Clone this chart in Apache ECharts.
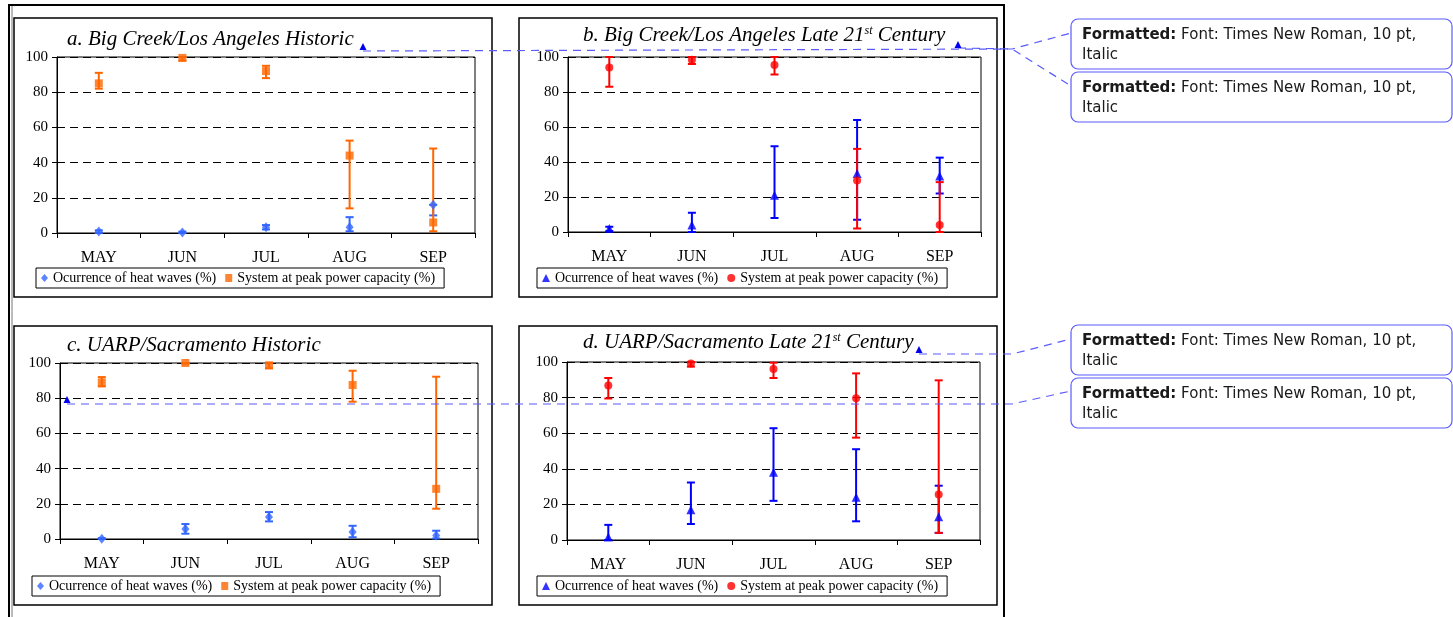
<!DOCTYPE html>
<html><head><meta charset="utf-8">
<script src="https://cdn.jsdelivr.net/npm/echarts@6/dist/echarts.min.js"></script>
<style>html,body{margin:0;padding:0;background:#fff;}#c{width:1453px;height:617px;}</style>
</head><body><div id="c"></div>
<script>
// ---- data ----
var categories = ['MAY','JUN','JUL','AUG','SEP'];
var yTicks = [0,20,40,60,80,100];
var heatName = 'Ocurrence of heat waves (%)';
var peakName = 'System at peak power capacity (%)';

// a. Big Creek/Los Angeles Historic
var aHeatVal  = [0.8, 0.3, 3.2, 3.2, 16];
var aHeatLow  = [0, 0, 2, 1, 10];
var aHeatHigh = [1.5, 0.8, 4.5, 9, 16];
var aPeakVal  = [85, 99.5, 92, 44, 6];
var aPeakLow  = [82, 98, 88, 14, 1];
var aPeakHigh = [91, 100, 95, 52.5, 48];

// b. Big Creek/Los Angeles Late 21st Century
var bHeatVal  = [2, 4, 21, 33.5, 32];
var bHeatLow  = [0.5, 0, 8, 7, 22];
var bHeatHigh = [3, 11, 49, 64, 42.5];
var bPeakVal  = [94, 98.5, 95.5, 29.5, 4];
var bPeakLow  = [83, 96, 90, 2, 0];
var bPeakHigh = [100, 100, 100, 47.5, 28.5];

// c. UARP/Sacramento Historic
var cHeatVal  = [0.2, 5.7, 12.5, 4, 2];
var cHeatLow  = [0, 3, 10, 1, 0.3];
var cHeatHigh = [0.5, 8.5, 15.3, 7.5, 4.7];
var cPeakVal  = [89, 100, 98.7, 87.5, 28.5];
var cPeakLow  = [86.7, 99.6, 97, 78, 17.2];
var cPeakHigh = [92, 100, 100, 95.6, 92.2];

// d. UARP/Sacramento Late 21st Century
var dHeatVal  = [1.7, 17, 38, 24, 13];
var dHeatLow  = [0, 9, 22, 10.5, 4];
var dHeatHigh = [8.5, 32.3, 62.8, 51, 30.5];
var dPeakVal  = [86.8, 99.2, 96, 79.7, 25.5];
var dPeakLow  = [79.5, 97.4, 91, 57.5, 4];
var dPeakHigh = [91, 100, 99.6, 93.6, 89.7];

// ---- styling / layout ----
var SERIF = 'Liberation Serif, Times New Roman, serif';
var panels = [
  {key:'a', grid:{left:57, top:57, width:418, height:176}, legend:{left:36, top:268},
   heat:[aHeatVal,aHeatLow,aHeatHigh], peak:[aPeakVal,aPeakLow,aPeakHigh],
   heatColor:'#3366ff', peakColor:'#ff6600', heatSym:'diamond', peakSym:'rect', heatSize:[8,10], peakSize:8},
  {key:'b', grid:{left:568, top:57, width:413, height:175}, legend:{left:537, top:268},
   heat:[bHeatVal,bHeatLow,bHeatHigh], peak:[bPeakVal,bPeakLow,bPeakHigh],
   heatColor:'#0000ff', peakColor:'#ff0000', heatSym:'triangle', peakSym:'circle', heatSize:9, peakSize:8},
  {key:'c', grid:{left:60, top:363, width:418, height:176}, legend:{left:32, top:576},
   heat:[cHeatVal,cHeatLow,cHeatHigh], peak:[cPeakVal,cPeakLow,cPeakHigh],
   heatColor:'#3366ff', peakColor:'#ff6600', heatSym:'diamond', peakSym:'rect', heatSize:[8,10], peakSize:8},
  {key:'d', grid:{left:567, top:362, width:413, height:178}, legend:{left:537, top:576},
   heat:[dHeatVal,dHeatLow,dHeatHigh], peak:[dPeakVal,dPeakLow,dPeakHigh],
   heatColor:'#0000ff', peakColor:'#ff0000', heatSym:'triangle', peakSym:'circle', heatSize:9, peakSize:8}
];

function errBar(color){
  return function(params, api){
    var i = api.value(0);
    var lo = api.coord([i, api.value(1)]);
    var hi = api.coord([i, api.value(2)]);
    var w = 4;
    var st = {stroke:color, lineWidth:2};
    return {type:'group', children:[
      {type:'line', shape:{x1:lo[0], y1:lo[1], x2:hi[0], y2:hi[1]}, style:st},
      {type:'line', shape:{x1:lo[0]-w, y1:lo[1], x2:lo[0]+w, y2:lo[1]}, style:st},
      {type:'line', shape:{x1:hi[0]-w, y1:hi[1], x2:hi[0]+w, y2:hi[1]}, style:st}
    ]};
  };
}
function rangeData(lo, hi){ return lo.map(function(v,i){ return [i, v, hi[i]]; }); }

var grids=[], xAxes=[], yAxes=[], series=[], legends=[];
panels.forEach(function(p, gi){
  grids.push(Object.assign({show:true, borderColor:'#000', borderWidth:1, backgroundColor:'transparent'}, p.grid));
  xAxes.push({type:'category', gridIndex:gi, data:categories, boundaryGap:true,
    axisLine:{lineStyle:{color:'#000', width:1}},
    axisTick:{show:true, interval:0, alignWithLabel:false, length:5, lineStyle:{color:'#000'}},
    axisLabel:{fontFamily:SERIF, fontSize:16, color:'#000', margin:17},
    splitLine:{show:false}});
  yAxes.push({type:'value', gridIndex:gi, min:yTicks[0], max:yTicks[yTicks.length-1], interval:20,
    axisLine:{show:true, lineStyle:{color:'#000', width:1}},
    axisTick:{show:true, length:5, lineStyle:{color:'#000'}},
    axisLabel:{fontFamily:SERIF, fontSize:15, color:'#000', margin:9},
    splitLine:{show:true, lineStyle:{color:'#000', width:1, type:[8,5]}}});
  var hn = p.key + '|' + heatName, pn = p.key + '|' + peakName;
  series.push({type:'custom', name:p.key+'-heat-err', xAxisIndex:gi, yAxisIndex:gi, z:2,
    renderItem:errBar(p.heatColor), encode:{x:0, y:[1,2]}, data:rangeData(p.heat[1], p.heat[2]), silent:true});
  series.push({type:'custom', name:p.key+'-peak-err', xAxisIndex:gi, yAxisIndex:gi, z:2,
    renderItem:errBar(p.peakColor), encode:{x:0, y:[1,2]}, data:rangeData(p.peak[1], p.peak[2]), silent:true});
  series.push({type:'scatter', name:hn, xAxisIndex:gi, yAxisIndex:gi, z:3, symbol:p.heatSym, symbolSize:p.heatSize,
    itemStyle:{color:p.heatColor}, data:p.heat[0], silent:true});
  series.push({type:'scatter', name:pn, xAxisIndex:gi, yAxisIndex:gi, z:3, symbol:p.peakSym, symbolSize:p.peakSize,
    itemStyle:{color:p.peakColor}, data:p.peak[0], silent:true});
  legends.push({left:p.legend.left, top:p.legend.top, orient:'horizontal', selectedMode:false,
    data:[{name:hn, icon:p.heatSym}, {name:pn, icon:p.peakSym}],
    formatter:function(n){ return n.split('|')[1]; },
    itemWidth:p.heatSym==='diamond'?7:8, itemHeight:8, itemGap:9, padding:[3,9,3,5],
    borderColor:'#000', borderWidth:1, backgroundColor:'#fff',
    textStyle:{fontFamily:SERIF, fontSize:14, color:'#000'}});
});

var titleStyle = {fontFamily:SERIF, fontStyle:'italic', fontWeight:'normal', fontSize:21, color:'#000'};
var rich = {n:{fontFamily:SERIF, fontStyle:'italic', fontWeight:'normal', fontSize:21, color:'#000'},
            s:{fontFamily:SERIF, fontStyle:'italic', fontWeight:'normal', fontSize:12, color:'#000', verticalAlign:'top'}};
var titles = [
  {text:'a. Big Creek/Los Angeles Historic', left:67, top:29, padding:0, textStyle:titleStyle},
  {text:'{n|b. Big Creek/Los Angeles Late 21}{s|st}{n| Century}', left:583, top:25, padding:0,
   textStyle:{fontWeight:'normal', fontStyle:'italic', fontFamily:SERIF, rich:rich}},
  {text:'c. UARP/Sacramento Historic', left:67, top:335, padding:0, textStyle:titleStyle},
  {text:'{n|d. UARP/Sacramento Late 21}{s|st}{n| Century}', left:583, top:332, padding:0,
   textStyle:{fontWeight:'normal', fontStyle:'italic', fontFamily:SERIF, rich:rich}}
];

// ---- document decorations (frames, track-change balloons) ----
var BL = '#5b5bff';
var dash = {stroke:BL, lineWidth:1.2, lineDash:[8,6], fill:null};
function frame(x,y,w,h){ return {type:'rect', shape:{x:x,y:y,width:w,height:h}, style:{fill:null, stroke:'#000', lineWidth:1.5}, z:-1, silent:true}; }
function tri(x,y){ return {type:'polygon', shape:{points:[[x-3.5,y+3],[x+3.5,y+3],[x,y-4]]}, style:{fill:'#0000ee'}, z:50, silent:true}; }
function balloon(y){
  return [
    {type:'rect', shape:{x:1071, y:y, width:381, height:50, r:7}, style:{fill:'#fff', stroke:BL, lineWidth:1.2}, z:40, silent:true},
    {type:'text', x:1082, y:y+6, z:41, silent:true, style:{
      text:'{b|Formatted:} Font: Times New Roman, 10 pt,\nItalic',
      font:'15px "DejaVu Sans", sans-serif', fill:'#1a1a1a', lineHeight:20,
      rich:{b:{fontWeight:'bold', fontSize:15, fontFamily:'DejaVu Sans', fill:'#1a1a1a'}}}}
  ];
}
var graphics = [
  {type:'rect', shape:{x:9, y:5, width:995, height:630}, style:{fill:null, stroke:'#000', lineWidth:2}, z:-1, silent:true},
  {type:'line', shape:{x1:12, y1:6, x2:12, y2:617}, style:{stroke:'#777', lineWidth:1}, z:-1, silent:true},
  frame(14,18,478,279), frame(519,18,478,279), frame(14,326,478,279), frame(519,326,478,279),
  {type:'polyline', shape:{points:[[363,51],[1012,49],[1071,33]]}, style:dash, z:45, silent:true},
  {type:'polyline', shape:{points:[[958,48],[1012,49],[1071,86]]}, style:dash, z:45, silent:true},
  {type:'polyline', shape:{points:[[919,354],[1012,354],[1071,339]]}, style:dash, z:45, silent:true},
  {type:'polyline', shape:{points:[[67,404],[1012,404],[1071,391]]}, style:dash, z:45, silent:true},
  tri(363,47), tri(958,45), tri(919,350), tri(67,400)
].concat(balloon(19), balloon(72), balloon(325), balloon(378));

var chart = echarts.init(document.getElementById('c'), null, {renderer:'canvas'});
chart.setOption({
  animation:false,
  backgroundColor:'#fff',
  title:titles,
  grid:grids, xAxis:xAxes, yAxis:yAxes,
  legend:legends,
  series:series,
  graphic:{elements:graphics}
});
</script></body></html>
